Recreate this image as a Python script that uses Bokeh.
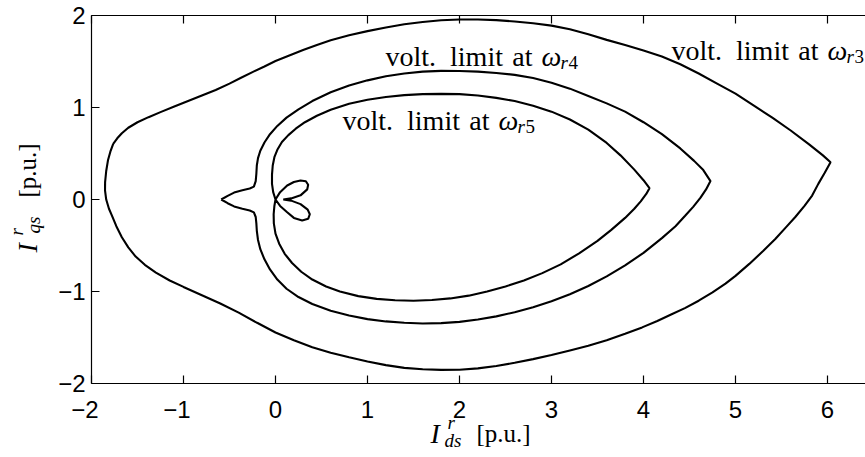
from bokeh.plotting import figure
from bokeh.models import Range1d, LinearAxis, FixedTicker, Label
from bokeh.embed import file_html
from bokeh.resources import INLINE
import math

# Axis ticks
X_TICKS = [-2, -1, 0, 1, 2, 3, 4, 5, 6]
Y_TICKS = [-2, -1, 0, 1, 2]

# Voltage limit contour at omega_r3 (outermost)
r3_x = [-1.764, -1.72, -1.67, -1.60, -1.50, -1.38, -1.25, -1.10, -0.95, -0.80,
        -0.65, -0.50, -0.38, -0.25, -0.12, 0.0, 0.15, 0.30, 0.45, 0.60,
        0.80, 1.00, 1.20, 1.40, 1.60, 1.80, 2.00, 2.20, 2.40, 2.60,
        2.80, 3.00, 3.20, 3.40, 3.60, 3.80, 4.00, 4.20, 4.40, 4.60,
        4.80, 5.00, 5.20, 5.40, 5.60, 5.80, 5.95, 6.033,
        5.97, 5.90, 5.833, 5.75, 5.65, 5.55, 5.435, 5.30, 5.15, 5.00,
        4.891, 4.75, 4.60, 4.45, 4.30, 4.15, 3.985, 3.80, 3.60, 3.40,
        3.20, 3.00, 2.80, 2.60, 2.40, 2.20, 2.00, 1.80, 1.60, 1.40,
        1.20, 1.00, 0.80, 0.60, 0.40, 0.20, 0.00, -0.20, -0.40, -0.60,
        -0.80, -1.00, -1.15, -1.30, -1.42, -1.52, -1.60, -1.67, -1.73, -1.78,
        -1.81, -1.84, -1.853, -1.852, -1.84, -1.82, -1.795, -1.764]
r3_y = [0.605, 0.665, 0.72, 0.78, 0.84, 0.895, 0.95, 1.01, 1.07, 1.13,
        1.19, 1.26, 1.32, 1.385, 1.445, 1.505, 1.565, 1.625, 1.68, 1.73,
        1.785, 1.83, 1.87, 1.905, 1.93, 1.948, 1.957, 1.957, 1.95, 1.935,
        1.915, 1.89, 1.85, 1.795, 1.735, 1.68, 1.62, 1.555, 1.47, 1.37,
        1.26, 1.15, 1.02, 0.89, 0.75, 0.60, 0.48, 0.405,
        0.29, 0.17, 0.043, -0.07, -0.19, -0.30, -0.427, -0.56, -0.70, -0.83,
        -0.915, -1.01, -1.10, -1.18, -1.25, -1.32, -1.39, -1.46, -1.53, -1.59,
        -1.64, -1.69, -1.735, -1.775, -1.81, -1.835, -1.85, -1.852, -1.845, -1.83,
        -1.80, -1.76, -1.715, -1.665, -1.605, -1.53, -1.445, -1.34, -1.23, -1.13,
        -1.04, -0.95, -0.88, -0.795, -0.71, -0.62, -0.52, -0.41, -0.29, -0.17,
        -0.10, 0.0, 0.10, 0.19, 0.31, 0.43, 0.52, 0.605]

# Voltage limit contour at omega_r4 (middle, with the notch on the left)
r4_x = [-0.59, -0.52, -0.45, -0.36, -0.28, -0.235, -0.215, -0.208, -0.203, -0.19,
        -0.165, -0.12, -0.06, 0.02, 0.12, 0.25, 0.40, 0.60, 0.80, 1.00,
        1.20, 1.40, 1.60, 1.80, 2.00, 2.20, 2.40, 2.60, 2.80, 3.00,
        3.20, 3.40, 3.60, 3.80, 4.00, 4.20, 4.40, 4.55, 4.65, 4.728,
        4.68, 4.62, 4.54, 4.45, 4.348, 4.20, 4.00, 3.80, 3.60, 3.40,
        3.20, 3.00, 2.80, 2.60, 2.40, 2.20, 2.00, 1.80, 1.60, 1.40,
        1.20, 1.00, 0.80, 0.60, 0.40, 0.25, 0.12, 0.02, -0.06, -0.12,
        -0.165, -0.19, -0.203, -0.208, -0.215, -0.235, -0.28, -0.36, -0.45, -0.52,
        -0.59]
r4_y = [0.0, 0.04, 0.075, 0.10, 0.12, 0.14, 0.20, 0.28, 0.37, 0.45,
        0.53, 0.62, 0.71, 0.80, 0.89, 0.98, 1.07, 1.165, 1.24, 1.295,
        1.34, 1.37, 1.39, 1.398, 1.397, 1.39, 1.375, 1.355, 1.32, 1.27,
        1.205, 1.125, 1.045, 0.955, 0.84, 0.71, 0.555, 0.42, 0.32, 0.2,
        0.11, 0.02, -0.08, -0.18, -0.29, -0.42, -0.58, -0.715, -0.835, -0.94,
        -1.03, -1.105, -1.17, -1.225, -1.27, -1.305, -1.33, -1.343, -1.347, -1.34,
        -1.325, -1.30, -1.26, -1.21, -1.135, -1.06, -0.97, -0.87, -0.76, -0.65,
        -0.54, -0.44, -0.34, -0.26, -0.19, -0.14, -0.12, -0.10, -0.075, -0.04,
        0.0]

# Voltage limit contour at omega_r5 (inner, with the two small lobes)
r5_x = [0.0, -0.025, -0.038, -0.038, -0.03, -0.012, 0.02, 0.07, 0.14, 0.22,
        0.32, 0.45, 0.60, 0.80, 1.00, 1.20, 1.40, 1.60, 1.80, 2.00,
        2.20, 2.40, 2.60, 2.80, 3.00, 3.20, 3.40, 3.60, 3.75, 3.90,
        4.00, 4.065,
        4.03, 3.97, 3.90, 3.80, 3.65, 3.50, 3.30, 3.10, 2.90, 2.70,
        2.50, 2.30, 2.10, 1.90, 1.70, 1.50, 1.30, 1.10, 0.90, 0.70,
        0.55, 0.40, 0.28, 0.18, 0.10, 0.04, 0.0, -0.018, -0.02, -0.012,
        0.0,
        0.05, 0.127, 0.20, 0.272, 0.33, 0.355, 0.345, 0.272, 0.17, 0.085,
        0.17, 0.272, 0.35, 0.373, 0.355, 0.29, 0.20, 0.127, 0.05, 0.0]
r5_y = [0.0, 0.08, 0.17, 0.27, 0.37, 0.46, 0.54, 0.625, 0.70, 0.77,
        0.84, 0.91, 0.975, 1.04, 1.085, 1.115, 1.135, 1.145, 1.148, 1.145,
        1.13, 1.105, 1.07, 1.02, 0.955, 0.87, 0.76, 0.615, 0.48, 0.325,
        0.21, 0.123,
        0.06, -0.02, -0.10, -0.20, -0.33, -0.45, -0.585, -0.705, -0.80, -0.88,
        -0.945, -1.0, -1.045, -1.075, -1.092, -1.10, -1.095, -1.08, -1.05, -1.0,
        -0.945, -0.87, -0.785, -0.69, -0.59, -0.48, -0.37, -0.26, -0.16, -0.07,
        0.0,
        0.08, 0.152, 0.19, 0.207, 0.198, 0.16, 0.11, 0.045, 0.012, 0.0,
        -0.012, -0.05, -0.11, -0.16, -0.21, -0.228, -0.20, -0.138, -0.07, 0.0]

MINUS = "\u2212"
FIGSP = "\u2007"
SERIF = "Liberation Serif"
SANS = "Liberation Sans"

# The frame fills the whole canvas; the axes sit at fixed data locations
# so that the composite axis titles can be drawn as ordinary labels.
p = figure(width=865, height=457,
           x_range=Range1d(-2.989, 6.413), y_range=Range1d(-2.804, 2.163),
           output_backend="svg", toolbar_location=None, min_border=0)
p.grid.visible = False
p.outline_line_color = None
p.background_fill_color = "white"
p.border_fill_color = "white"

for xs, ys in ((r3_x, r3_y), (r4_x, r4_y), (r5_x, r5_y)):
    p.line(xs, ys, line_color="black", line_width=2.1)


def style_axis(ax, ticks, standoff, loc, bounds, hang_minus=False):
    ax.fixed_location = loc
    ax.bounds = bounds
    ax.ticker = FixedTicker(ticks=ticks)
    ax.axis_line_color = "black"
    ax.axis_line_width = 1.2
    ax.major_tick_line_color = "black"
    ax.major_tick_line_width = 1.2
    ax.major_tick_in = 8
    ax.major_tick_out = 0
    ax.minor_tick_in = 0
    ax.minor_tick_out = 0
    ax.major_label_text_font = SANS
    ax.major_label_text_font_size = "24px"
    ax.major_label_text_color = "black"
    ax.major_label_standoff = standoff
    labels = {}
    for t in ticks:
        if t < 0:
            # keep the digit centred on its tick, with the minus sign hanging left
            labels[t] = MINUS + str(-t) + (FIGSP if hang_minus else "")
        else:
            labels[t] = str(t)
    ax.major_label_overrides = labels


style_axis(p.xaxis[0], X_TICKS, 12, -2, (-2, 6.413), hang_minus=True)
style_axis(p.yaxis[0], Y_TICKS, 6, -2, (-2, 2))

top = LinearAxis()
style_axis(top, X_TICKS, 0, 2, (-2, 6.413))
top.major_label_text_color = None
p.add_layout(top, "above")


def X(px):
    return -2 + (px - 91) / 92.0


def Y(py):
    return (199 - py) / 92.0


def txt(s, px, py, size, italic=False, angle=0.0):
    p.add_layout(Label(x=X(px), y=Y(py), text=s, text_font=SERIF,
                       text_font_size=f"{size}px",
                       text_font_style="italic" if italic else "normal",
                       text_color="black", text_align="left",
                       text_baseline="alphabetic", angle=angle))


# Curve annotations: "volt. limit at ω_rN"
for start, base, digit in ((671, 50, "3"), (385, 56, "4"), (342, 120, "5")):
    txt("volt.\u2002limit\u2004at", start, base, 28)
    txt("\u03c9", start + 156, base, 28, italic=True)
    txt("r", start + 175, base + 6, 19, italic=True)
    txt(digit, start + 183, base + 6, 19)

# x-axis title
txt("I", 430, 433, 28, italic=True)
txt("r", 447, 422, 19, italic=True)
txt("ds", 444, 440, 19, italic=True)
txt("[p.u.]", 476, 433, 25)

# y-axis title (rotated)
A = math.pi / 2
txt("I", 27, 252, 28, italic=True, angle=A)
txt("r", 16, 235, 19, italic=True, angle=A)
txt("qs", 33, 233, 19, italic=True, angle=A)
txt("[p.u.]", 27, 197, 25, angle=A)

open("out.html", "w").write(file_html(p, INLINE))
